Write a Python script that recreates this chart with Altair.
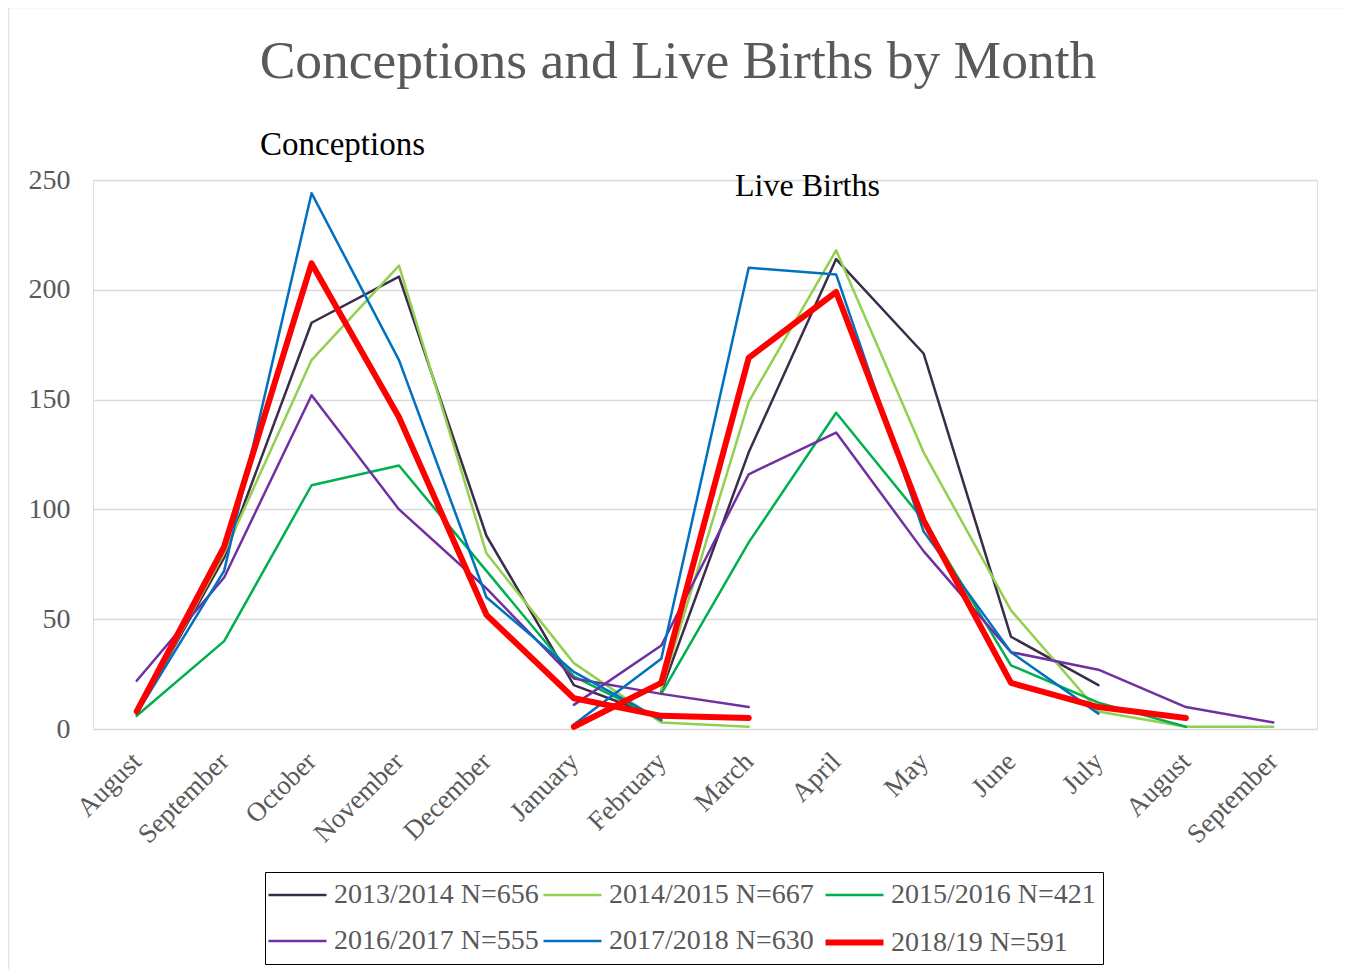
import altair as alt
import pandas as pd

months = ["August", "September", "October", "November", "December", "January",
          "February", "March", "April", "May", "June", "July", "August", "September"]
series = ["2013/2014 N=656", "2014/2015 N=667", "2015/2016 N=421",
          "2016/2017 N=555", "2017/2018 N=630", "2018/19 N=591"]
colors = ["#3B2C4C", "#92D050", "#00B050", "#7030A0", "#0070C0", "#FF0000"]
widths = [2.5, 2.5, 2.5, 2.5, 2.5, 6]

# Conceptions: values from August (first month) onward
conc_2013 = [7, 78, 185, 206, 88, 20, 5]
conc_2014 = [7, 80, 168, 211, 80, 30, 3, 1]
conc_2015 = [6, 40, 111, 120, 72, 24, 4]
conc_2016 = [22, 69, 152, 100, 64, 23, 16, 10]
conc_2017 = [7, 72, 244, 168, 60, 26, 4]
conc_2018 = [8, 83, 212, 142, 52, 14, 6, 5]

# Live births: values from January onward (None = not shown)
birth_2013 = [None, 17, 126, 214, 171, 42, 20]
birth_2014 = [None, 18, 149, 218, 126, 54, 8, 1, 1]
birth_2015 = [None, 16, 85, 144, 95, 29, 12, 1]
birth_2016 = [11, 38, 116, 135, 81, 35, 27, 10, 3]
birth_2017 = [2, 32, 210, 207, 90, 35, 7]
birth_2018 = [1, 21, 169, 199, 95, 21, 10, 5]

conceptions = [conc_2013, conc_2014, conc_2015, conc_2016, conc_2017, conc_2018]
births = [birth_2013, birth_2014, birth_2015, birth_2016, birth_2017, birth_2018]
conc_start = months.index("August")
birth_start = months.index("January")

rows = []
for s, c, b in zip(series, conceptions, births):
    for i, v in enumerate(c):
        if v is not None:
            rows.append({"series": s, "seg": "conceptions", "idx": conc_start + i, "value": v})
    for i, v in enumerate(b):
        if v is not None:
            rows.append({"series": s, "seg": "births", "idx": birth_start + i, "value": v})
df = pd.DataFrame(rows)

label_expr = "[" + ",".join("'" + m + "'" for m in months) + "][datum.value]"

FONT = "Liberation Serif"
GREY = "#595959"

legend = alt.Legend(
    title=None, orient="none", legendX=172, legendY=692, columns=3,
    direction="horizontal", symbolType="M-2,0H2", symbolSize=841,
    symbolOffset=8,
    labelFont=FONT, labelFontSize=28, labelColor=GREY, labelOffset=19,
    strokeColor="black", padding=7, columnPadding=-1, rowPadding=16,
    labelLimit=400,
)

lines = alt.Chart(df).mark_line(strokeJoin="round", strokeCap="round").encode(
    x=alt.X("idx:O", title=None,
            scale=alt.Scale(type="point", padding=0.5),
            axis=alt.Axis(labelExpr=label_expr, labelAngle=315, labelAlign="right",
                          labelBaseline="middle", labelFont=FONT, labelFontSize=27,
                          labelColor=GREY, labelPadding=28, ticks=False, domain=False,
                          grid=False)),
    y=alt.Y("value:Q", title=None,
            scale=alt.Scale(domain=[0, 250]),
            axis=alt.Axis(values=[0, 50, 100, 150, 200, 250], labelFont=FONT,
                          labelFontSize=28, labelColor=GREY, labelPadding=23,
                          ticks=False, domain=False, gridColor="#D9D9D9",
                          gridWidth=1.5)),
    color=alt.Color("series:N", scale=alt.Scale(domain=series, range=colors), legend=legend),
    strokeWidth=alt.StrokeWidth("series:N", scale=alt.Scale(type="ordinal", domain=series, range=widths),
                                legend=legend),
    detail="seg:N",
    order=alt.Order("idx:Q"),
)

title_df = pd.DataFrame({"t": ["Conceptions and Live Births by Month"]})

frame = alt.Chart(title_df).mark_rect(fill="transparent", stroke="#E3E3E3", strokeWidth=2.5).encode(
    x=alt.value(-85), x2=alt.value(1256), y=alt.value(-173), y2=alt.value(800))

title = alt.Chart(title_df).mark_text(font=FONT, fontSize=53.5, color=GREY, align="center",
                                      baseline="alphabetic").encode(
    text="t:N", x=alt.value(585), y=alt.value(-102))

conc_df = pd.DataFrame({"t": ["Conceptions"]})
conc_lbl = alt.Chart(conc_df).mark_text(font=FONT, fontSize=33, color="black", align="left",
                                        baseline="alphabetic").encode(
    text="t:N", x=alt.value(167), y=alt.value(-25))

birth_df = pd.DataFrame({"t": ["Live Births"]})
birth_lbl = alt.Chart(birth_df).mark_text(font=FONT, fontSize=32, color="black", align="left",
                                          baseline="alphabetic").encode(
    text="t:N", x=alt.value(642), y=alt.value(16))

chart = alt.layer(frame, lines, title, conc_lbl, birth_lbl).properties(
    width=1224, height=549,
    autosize=alt.AutoSizeParams(type="none"),
    padding={"left": 85, "top": 172, "right": 30, "bottom": 240},
).configure_view(strokeWidth=0).configure_legend(strokeWidth=1.5).configure(background="white")

chart.save("out.html", embed_options={"renderer": "svg", "actions": False})
